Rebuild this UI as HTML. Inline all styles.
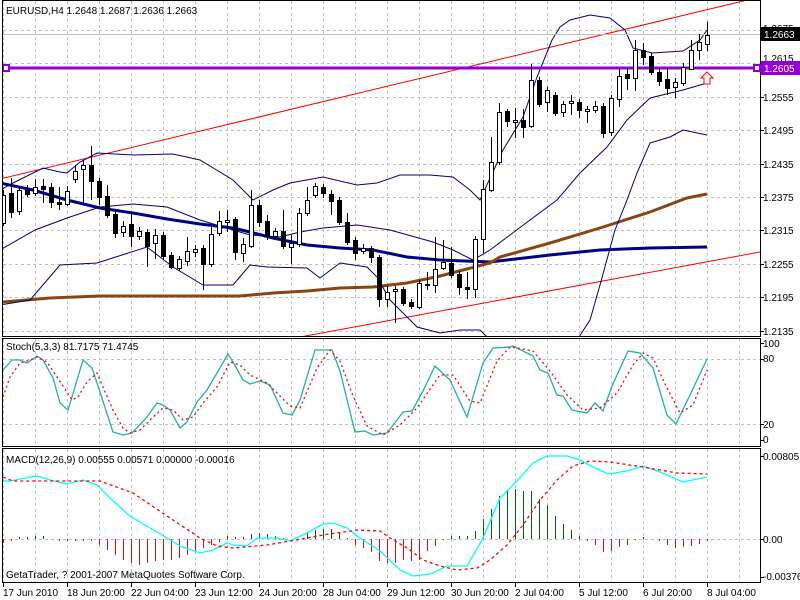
<!DOCTYPE html>
<html><head><meta charset="utf-8"><style>
html,body{margin:0;padding:0;background:#fff;width:800px;height:600px;overflow:hidden}
svg{display:block}
text{font-family:"Liberation Sans",Arial,sans-serif;font-size:10px;fill:#000}
</style></head><body>
<svg id="s" width="800" height="600" viewBox="0 0 800 600" xmlns="http://www.w3.org/2000/svg">
<defs>
<clipPath id="c1"><rect x="3" y="1" width="757" height="335"/></clipPath>
<clipPath id="c2"><rect x="3" y="338" width="757" height="108"/></clipPath>
<clipPath id="c3"><rect x="3" y="449" width="757" height="133"/></clipPath>
</defs>
<g id="grid"></g>
<g id="main" clip-path="url(#c1)"></g>
<g id="stoch" clip-path="url(#c2)"></g>
<g id="macd" clip-path="url(#c3)"></g>
<g id="frame" fill="none" stroke="#000" stroke-width="1" shape-rendering="crispEdges">
<rect x="2.5" y="0.5" width="758" height="336"/>
<rect x="2.5" y="338.5" width="758" height="108"/>
<rect x="2.5" y="448.5" width="758" height="134"/>
</g>
<g id="ticks" stroke="#000" shape-rendering="crispEdges"></g>
<text x="6" y="14">EURUSD,H4  1.2648 1.2687 1.2636 1.2663</text>
<text x="6" y="350">Stoch(5,3,3) 81.7175 71.4745</text>
<text x="6" y="463">MACD(12,26,9) 0.00555 0.00571 0.00000 -0.00016</text>
<text x="6" y="578">GetaTrader, ? 2001-2007 MetaQuotes Software Corp.</text>
<g>
<text x="763" y="32">1.2675</text>
<text x="763" y="62">1.2615</text>
<text x="763" y="101">1.2555</text>
<text x="763" y="134">1.2495</text>
<text x="763" y="168">1.2435</text>
<text x="763" y="201">1.2375</text>
<text x="763" y="234">1.2315</text>
<text x="763" y="268">1.2255</text>
<text x="763" y="301">1.2195</text>
<text x="763" y="335">1.2135</text>
</g>
<rect x="761" y="27" width="39" height="14" fill="#000"/>
<text x="764" y="38" style="fill:#fff">1.2663</text>
<rect x="761" y="61" width="39" height="14" fill="#9400d3"/>
<text x="764" y="72" style="fill:#fff">1.2605</text>
<g>
<text x="763" y="347">100</text>
<text x="763" y="362">80</text>
<text x="763" y="428">20</text>
<text x="763" y="443">0</text>
<text x="763" y="460">0.00805</text>
<text x="763" y="543">0.00</text>
<text x="763" y="580">-0.00376</text>
</g>
<g>
<text x="3" y="596">17 Jun 2010</text>
<text x="67" y="596">18 Jun 20:00</text>
<text x="131" y="596">22 Jun 04:00</text>
<text x="195" y="596">23 Jun 12:00</text>
<text x="259" y="596">24 Jun 20:00</text>
<text x="323" y="596">28 Jun 04:00</text>
<text x="387" y="596">29 Jun 12:00</text>
<text x="451" y="596">30 Jun 20:00</text>
<text x="515" y="596">2 Jul 04:00</text>
<text x="579" y="596">5 Jul 12:00</text>
<text x="643" y="596">6 Jul 20:00</text>
<text x="707" y="596">8 Jul 04:00</text>
</g>
</svg>
<script>
var NS="http://www.w3.org/2000/svg";
function el(parent,tag,attrs){var e=document.createElementNS(NS,tag);for(var k in attrs)e.setAttribute(k,attrs[k]);document.getElementById(parent).appendChild(e);return e;}
function pl(parent,pts,color,w,dash){var a={points:pts.map(function(p){return p.join(",")}).join(" "),fill:"none",stroke:color,"stroke-width":w};if(dash)a["stroke-dasharray"]=dash;el(parent,"polyline",a);}
var g="grid";
for(var x=3;x<=760;x+=32){
 [[1,336],[339,446],[449,582]].forEach(function(r){el(g,"line",{x1:x+.5,y1:r[0],x2:x+.5,y2:r[1],stroke:"#c0c0c0","stroke-dasharray":"3,3","shape-rendering":"crispEdges"});});
}
[30,63,97,130,164,197,230,264,297,331,359,424,539].forEach(function(y){el(g,"line",{x1:3,y1:y+.5,x2:760,y2:y+.5,stroke:"#c0c0c0","stroke-dasharray":"3,3","shape-rendering":"crispEdges"});});
for(var x=3;x<=760;x+=64){el("ticks","line",{x1:x+.5,y1:583,x2:x+.5,y2:587});}
[30,63,97,130,164,197,230,264,297,331,343,359,424,440,456,539,577].forEach(function(y){el("ticks","line",{x1:761,y1:y+.5,x2:764,y2:y+.5});});
var m="main";
pl(m,[[0,179],[760,-3]],"#ff0000",1);
pl(m,[[300,337],[760,252]],"#ff0000",1);
pl(m,[[0,183],[33,190],[67,200],[100,208],[133,213],[167,219],[200,224],[233,228],[250,232],[273,238],[307,245],[340,248],[373,250],[407,257],[440,260],[490,262],[550,255],[600,250],[650,248],[707,247]],"#00008b",3);
pl(m,[[3,302],[50,298],[100,296],[200,296],[240,296],[273,293],[307,291],[340,288],[373,287],[407,283],[440,276],[490,263],[500,257],[550,243],[600,228],[650,212],[687,198],[707,194]],"#8b4513",3);
pl(m,[[0,190],[13,183],[43,168],[60,172],[67,173],[80,162],[97,153],[133,155],[173,154],[200,160],[233,180],[253,200],[273,190],[290,183],[323,177],[357,185],[377,183],[400,175],[430,175],[453,177],[470,190],[480,200],[503,150],[523,117],[537,77],[552,40],[560,27],[570,20],[590,15],[610,18],[625,30],[633,48],[652,53],[683,51],[700,40],[707,30]],"#000080",1);
pl(m,[[0,250],[35,230],[67,218],[100,207],[133,204],[167,207],[200,220],[233,230],[250,235],[280,237],[300,232],[323,228],[357,225],[390,230],[433,242],[453,250],[473,260],[490,250],[510,235],[530,220],[557,200],[580,173],[607,147],[627,120],[650,98],[683,90],[707,83]],"#000080",1);
pl(m,[[0,305],[30,300],[60,265],[97,263],[147,247],[173,267],[203,285],[233,285],[250,265],[267,267],[307,268],[320,278],[340,263],[367,267],[377,277],[390,300],[417,327],[440,333],[460,330],[480,330],[490,340]],"#000080",1);
pl(m,[[577,340],[590,320],[600,285],[615,230],[627,200],[637,173],[650,143],[670,137],[683,130],[707,135]],"#000080",1);
el(m,"line",{x1:3,y1:34.5,x2:760,y2:34.5,stroke:"#c0c0c0","shape-rendering":"crispEdges"});
el(m,"line",{x1:3,y1:68,x2:760,y2:68,stroke:"#9400d3","stroke-width":3});
el(m,"rect",{x:3,y:65,width:6,height:6,fill:"#fff",stroke:"#9400d3","stroke-width":2});
el("frame","rect",{x:754,y:65,width:6,height:6,fill:"#fff",stroke:"#9400d3","stroke-width":2});
var C=[[195,223,190,226,1],[193,212,178,218,0],[190,211,187,215,1],[190,194,185,197,0],[187,193,179,196,1],[186,189,179,203,0],[187,202,183,208,0],[202,204,187,210,0],[191,204,186,206,1],[171,179,165,183,1],[165,169,160,203,1],[165,181,146,200,0],[181,197,178,205,0],[196,215,185,218,0],[214,233,210,238,0],[226,232,221,237,1],[224,236,212,247,0],[231,236,227,240,1],[232,246,229,267,0],[235,243,229,259,1],[235,256,232,260,0],[255,267,252,269,0],[259,268,256,271,1],[251,261,237,266,1],[249,252,245,257,1],[248,264,245,290,0],[234,264,225,267,1],[221,233,211,236,1],[220,222,210,232,1],[219,252,217,260,0],[244,253,238,262,1],[205,246,190,248,1],[205,222,200,227,0],[221,236,215,240,0],[231,236,228,240,1],[231,246,210,249,0],[243,247,235,264,1],[213,244,208,247,1],[200,213,187,216,1],[186,195,183,198,1],[187,193,184,198,0],[194,201,190,215,0],[200,222,197,225,0],[222,242,213,245,0],[240,253,237,260,0],[248,251,244,254,1],[248,257,246,263,0],[257,299,255,307,0],[292,299,286,307,1],[289,291,286,323,1],[289,303,287,306,0],[302,306,299,309,0],[283,307,280,309,1],[284,285,272,290,1],[269,285,237,293,1],[262,268,240,270,1],[263,275,247,278,0],[274,287,271,295,0],[287,289,272,299,0],[239,289,236,298,1],[189,239,180,253,1],[162,190,137,192,1],[112,162,103,165,1],[111,121,109,127,0],[120,122,108,138,1],[120,127,109,138,0],[80,126,64,128,1],[80,104,77,107,0],[90,102,87,112,1],[95,113,92,116,0],[104,112,101,117,1],[101,103,95,115,1],[102,110,99,118,0],[109,111,106,123,1],[106,110,101,113,1],[106,133,103,138,0],[98,132,95,136,1],[76,99,69,107,1],[74,78,68,90,0],[50,78,40,91,1],[50,57,43,65,0],[56,72,53,75,0],[72,81,68,86,0],[79,88,68,95,0],[82,87,78,98,1],[67,83,63,86,1],[50,69,40,70,1],[42,50,34,60,1],[35,44,22,51,1]];
C.forEach(function(c,i){var x=3+8*i;
 el(m,"line",{x1:x+.5,y1:c[2],x2:x+.5,y2:c[3],stroke:"#000","shape-rendering":"crispEdges"});
 var h=Math.max(1,c[1]-c[0]);
 el(m,"rect",{x:x-1.5,y:c[0]+.5,width:4,height:h,fill:c[4]?"#fff":"#000",stroke:"#000","shape-rendering":"crispEdges"});
});
el(m,"path",{d:"M707,72 L713,78 L710,78 L710,84 L704,84 L704,78 L701,78 Z",fill:"#fff",stroke:"#ff0000","stroke-width":1});
pl("stoch",[[3,370],[12,360],[20,360],[27,363],[37,356],[43,360],[53,378],[60,403],[68,410],[83,360],[92,368],[100,392],[113,432],[123,435],[132,433],[147,417],[157,403],[163,405],[170,410],[180,428],[187,422],[197,402],[207,390],[217,373],[228,354],[233,362],[243,380],[250,384],[260,381],[270,385],[283,413],[292,415],[300,400],[315,350],[332,350],[340,371],[355,432],[365,431],[373,435],[387,433],[397,420],[403,412],[412,411],[423,391],[435,366],[450,380],[467,417],[483,363],[493,348],[510,347],[513,346],[533,356],[540,370],[548,373],[557,395],[563,396],[572,410],[587,413],[595,403],[603,411],[612,386],[628,351],[640,353],[653,368],[667,415],[676,424],[690,395],[707,359]],"#20b2aa",1.3);
pl("stoch",[[3,397],[10,377],[20,363],[30,360],[37,357],[47,362],[57,377],[67,392],[72,400],[78,397],[87,382],[97,373],[103,387],[113,410],[123,428],[130,433],[140,430],[150,420],[163,408],[173,410],[183,420],[193,417],[203,403],[217,387],[230,362],[240,365],[250,375],[267,383],[290,406],[300,408],[317,368],[330,350],[340,361],[353,396],[367,426],[383,435],[400,425],[417,408],[433,385],[440,375],[453,375],[470,401],[480,403],[497,361],[510,347],[517,348],[533,351],[550,371],[567,395],[583,410],[600,408],[617,393],[633,365],[643,353],[653,358],[667,388],[680,413],[693,405],[707,370]],"#ff0000",1.3,"2,3");
var K=[[3,543],[11,541],[19,537],[27,537],[35,536],[43,536],[51,539],[59,541],[91,541],[100,546],[108,551],[116,556],[123,560],[132,563],[139,565],[148,563],[156,561],[163,560],[172,560],[179,558],[188,555],[196,551],[203,548],[212,545],[219,542],[227,536],[235,537],[243,537],[251,534],[259,533],[267,534],[275,536],[283,538],[299,539],[307,533],[315,530],[323,529],[331,529],[339,532],[347,538],[355,545],[363,548],[372,553],[379,561],[387,563],[395,563],[403,560],[411,561],[419,560],[427,551],[436,545],[443,540],[451,536],[459,536],[468,536],[476,530],[483,519],[491,509],[499,496],[507,490],[515,489],[523,491],[531,491],[539,499],[547,505],[555,516],[563,524],[571,530],[579,536],[587,541],[595,545],[603,552],[611,551],[619,547],[627,545],[635,540],[643,537],[651,539],[659,541],[667,545],[675,548],[683,547],[691,546],[699,544],[707,541]];
function hv(x){for(var j=0;j<K.length-1;j++){if(x>=K[j][0]&&x<=K[j+1][0]){var t=(x-K[j][0])/(K[j+1][0]-K[j][0]);return K[j][1]+t*(K[j+1][1]-K[j][1]);}}return 539;}
for(var i=0;i<89;i++){var x=3+8*i,y=Math.round(hv(x));if(y==539)continue;
 el("macd","line",{x1:x+.5,y1:539,x2:x+.5,y2:y,stroke:y<539?"#006400":"#ff0000","stroke-width":1.2,"shape-rendering":"crispEdges"});}
pl("macd",[[3,481],[10,481],[20,479],[37,476],[50,480],[67,484],[83,480],[97,485],[110,498],[130,516],[150,528],[167,538],[180,546],[200,553],[213,550],[227,543],[233,545],[247,546],[257,538],[277,538],[290,541],[307,533],[323,524],[333,523],[347,528],[357,536],[380,551],[400,570],[413,576],[430,574],[447,566],[467,566],[483,538],[500,498],[517,481],[533,463],[547,456],[567,456],[580,460],[593,467],[608,474],[627,471],[643,466],[660,472],[683,482],[707,477]],"#00ffff",1.3);
pl("macd",[[3,477],[13,481],[50,481],[100,481],[133,493],[167,516],[200,538],[217,546],[233,548],[267,545],[290,541],[323,535],[357,530],[380,531],[390,538],[407,548],[423,560],[440,566],[457,570],[477,568],[490,560],[507,545],[523,525],[540,500],[557,480],[573,466],[590,461],[610,462],[643,467],[677,473],[707,474]],"#ff0000",1.3,"3,3");
</script>
</body></html>
